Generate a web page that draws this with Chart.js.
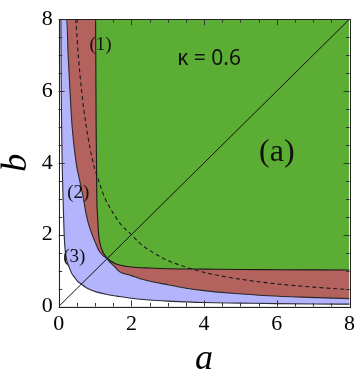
<!DOCTYPE html>
<html>
<head>
<meta charset="utf-8">
<script src="https://cdn.jsdelivr.net/npm/chart.js@4/dist/chart.umd.min.js"></script>
<style>
  html, body { margin: 0; padding: 0; background: #fff; }
  #wrap { width: 360px; height: 378px; }
</style>
</head>
<body>
<div id="wrap"><canvas id="c" width="360" height="378"></canvas></div>
<script>
// ---- data ----
const axisTicks = [0, 2, 4, 6, 8];
const minorTicks = [0.5, 1, 1.5, 2.5, 3, 3.5, 4.5, 5, 5.5, 6.5, 7, 7.5];

// region (1): green everywhere above its boundary
const greenTopA = [0, 8];
const greenTopB = [8, 8];

// boundary between red and green regions
const greenEdgeA = [0, 1.015, 1.02, 1.025, 1.03, 1.04, 1.05, 1.07, 1.10, 1.15, 1.20, 1.26, 1.34, 1.44, 1.55, 1.70, 2.0, 2.5, 3.0, 4.0, 5.0, 6.0, 7.0, 8.0];
const greenEdgeB = [8, 8, 7, 6, 5, 4, 3, 2.5, 2.0, 1.7, 1.55, 1.44, 1.34, 1.26, 1.20, 1.15, 1.10, 1.07, 1.05, 1.04, 1.03, 1.025, 1.02, 1.015];

// boundary between blue and red regions
const redEdgeA = [0, 0.22, 0.26, 0.31, 0.37, 0.48, 0.58, 0.68, 0.75, 0.82, 0.92, 1.0, 1.11, 1.22, 1.33, 1.42, 1.55, 1.67, 2.0, 2.22, 2.6, 3.04, 3.5, 3.94, 4.86, 5.76, 6.67, 8.0];
const redEdgeB = [8, 8, 7, 6, 5, 4, 3.5, 3.0, 2.6, 2.3, 2.0, 1.8, 1.55, 1.42, 1.33, 1.22, 1.10, 0.97, 0.86, 0.78, 0.68, 0.60, 0.51, 0.45, 0.36, 0.30, 0.26, 0.22];

// boundary between white and blue regions
const blueEdgeA = [0, 0.06, 0.065, 0.07, 0.08, 0.095, 0.12, 0.15, 0.18, 0.22, 0.29, 0.36, 0.43, 0.52, 0.63, 0.72, 0.80, 0.90, 1.05, 1.3, 1.6, 2.0, 2.5, 3.0, 3.5, 4.0, 5.0, 6.0, 7.0, 8.0];
const blueEdgeB = [8, 8, 7, 6, 5, 4, 3, 2, 1.55, 1.3, 1.09, 0.92, 0.82, 0.70, 0.62, 0.55, 0.50, 0.45, 0.40, 0.34, 0.29, 0.23, 0.18, 0.15, 0.13, 0.11, 0.095, 0.08, 0.07, 0.065];

// dashed curve
const dashedA = [0.47, 0.54, 0.63, 0.76, 0.95, 1.1, 1.28, 1.5, 1.7, 2.0, 2.3, 2.6, 3.0, 3.5, 4.0, 5.0, 6.0, 7.0, 8.0];
const dashedB = [8, 7, 6, 5, 4, 3.5, 3.0, 2.6, 2.3, 2.0, 1.7, 1.5, 1.28, 1.1, 0.95, 0.76, 0.63, 0.54, 0.47];

// diagonal a = b
const diagA = [0, 8];
const diagB = [0, 8];

// ---- build ----
const pts = (A, B) => A.map((a, i) => ({ x: a, y: B[i] }));
const GREEN = '#5cad34', RED = '#b3625d', BLUE = '#b4b4fc';

const regionSet = (label, A, B, fillColor, lineColor, order) => ({
  label, data: pts(A, B), order,
  backgroundColor: fillColor, fill: 'origin',
  borderColor: lineColor, borderWidth: lineColor ? 1.1 : 0,
  pointRadius: 0, cubicInterpolationMode: 'monotone'
});

const serif = '"Liberation Serif", "DejaVu Serif", serif';

const overlay = {
  id: 'overlay',
  afterDatasetsDraw(chart) {
    const { ctx, chartArea: ca, scales: { x, y } } = chart;
    ctx.save();
    // frame ticks (inward, all four sides)
    ctx.strokeStyle = '#333';
    ctx.lineWidth = 1;
    ctx.beginPath();
    const drawTick = (v, len) => {
      const px = Math.round(x.getPixelForValue(v)) + 0.5;
      const py = Math.round(y.getPixelForValue(v)) + 0.5;
      ctx.moveTo(px, ca.bottom); ctx.lineTo(px, ca.bottom - len);
      ctx.moveTo(px, ca.top); ctx.lineTo(px, ca.top + len);
      ctx.moveTo(ca.left, py); ctx.lineTo(ca.left + len, py);
      ctx.moveTo(ca.right, py); ctx.lineTo(ca.right - len, py);
    };
    axisTicks.forEach(v => drawTick(v, 6));
    minorTicks.forEach(v => drawTick(v, 3.5));
    ctx.stroke();
    // frame
    ctx.strokeStyle = '#222';
    ctx.strokeRect(Math.round(ca.left) + 0.5, Math.round(ca.top) + 0.5,
      Math.round(ca.right) - Math.round(ca.left), Math.round(ca.bottom) - Math.round(ca.top));

    // annotations
    ctx.fillStyle = '#111';
    ctx.textBaseline = 'middle';
    ctx.textAlign = 'center';
    ctx.font = '19px ' + serif;
    ctx.fillText('(1)', x.getPixelForValue(1.15), y.getPixelForValue(7.29));
    ctx.fillText('(2)', x.getPixelForValue(0.54), y.getPixelForValue(3.15));
    ctx.fillText('(3)', x.getPixelForValue(0.43), y.getPixelForValue(1.37));
    ctx.font = '32px ' + serif;
    ctx.fillText('(a)', x.getPixelForValue(6.0), y.getPixelForValue(4.28));
    ctx.textAlign = 'left';
    ctx.font = '21px "Noto Sans", sans-serif';
    ctx.fillText('\u03BA = 0.6', x.getPixelForValue(3.26), y.getPixelForValue(6.88));

    // axis titles
    ctx.textAlign = 'center';
    ctx.font = 'italic 36px ' + serif;
    ctx.fillStyle = '#000';
    ctx.fillText('a', (ca.left + ca.right) / 2, 360);
    ctx.save();
    ctx.translate(17, (ca.top + ca.bottom) / 2);
    ctx.rotate(-Math.PI / 2);
    ctx.fillText('b', 0, 0);
    ctx.restore();
    ctx.restore();
  }
};

const tickFont = { family: serif, size: 22 };

new Chart(document.getElementById('c'), {
  type: 'line',
  data: {
    datasets: [
      regionSet('green', greenTopA, greenTopB, GREEN, null, 10),
      regionSet('red', greenEdgeA, greenEdgeB, RED, '#1a1a1a', 9),
      regionSet('blue', redEdgeA, redEdgeB, BLUE, '#2a2a2a', 8),
      regionSet('white', blueEdgeA, blueEdgeB, '#ffffff', '#2a2a3a', 7),
      { label: 'dashed', data: pts(dashedA, dashedB), order: 2, fill: false,
        borderColor: '#1a1a1a', borderWidth: 1.1, borderDash: [4, 3], pointRadius: 0,
        cubicInterpolationMode: 'monotone' },
      { label: 'diag', data: pts(diagA, diagB), order: 1, fill: false,
        borderColor: '#111', borderWidth: 1, pointRadius: 0, tension: 0 }
    ]
  },
  options: {
    responsive: false,
    animation: false,
    devicePixelRatio: 1,
    layout: { padding: { top: 14, right: 8, left: 0, bottom: 0 } },
    plugins: { legend: { display: false }, tooltip: { enabled: false } },
    scales: {
      x: {
        type: 'linear', min: 0, max: 8,
        afterBuildTicks: s => { s.ticks = axisTicks.map(v => ({ value: v })); },
        ticks: { font: tickFont, color: '#000', padding: 5, maxRotation: 0 },
        grid: { drawOnChartArea: false, drawTicks: false },
        border: { display: false },
        afterFit: s => { s.height = 71.5; }
      },
      y: {
        type: 'linear', min: 0, max: 8,
        afterBuildTicks: s => { s.ticks = axisTicks.map(v => ({ value: v })); },
        ticks: { font: tickFont, color: '#000', padding: 6 },
        grid: { drawOnChartArea: false, drawTicks: false },
        border: { display: false },
        afterFit: s => { s.width = 58.7; }
      }
    }
  },
  plugins: [overlay]
});
</script>
</body>
</html>
